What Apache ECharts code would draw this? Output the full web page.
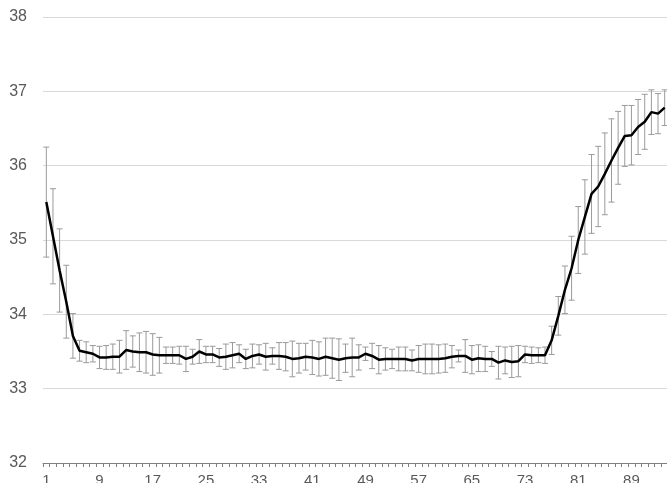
<!DOCTYPE html>
<html>
<head>
<meta charset="utf-8">
<script src="https://cdn.jsdelivr.net/npm/echarts@6/dist/echarts.min.js"></script>
<style>
  html, body { margin: 0; padding: 0; background: #ffffff; }
  #chart { width: 667px; height: 483px; }
</style>
</head>
<body>
<div id="chart"></div>
<script>
// Sample index along the x axis
const categories = [
  1, 2, 3, 4, 5, 6, 7, 8, 9, 10,
  11, 12, 13, 14, 15, 16, 17, 18, 19, 20,
  21, 22, 23, 24, 25, 26, 27, 28, 29, 30,
  31, 32, 33, 34, 35, 36, 37, 38, 39, 40,
  41, 42, 43, 44, 45, 46, 47, 48, 49, 50,
  51, 52, 53, 54, 55, 56, 57, 58, 59, 60,
  61, 62, 63, 64, 65, 66, 67, 68, 69, 70,
  71, 72, 73, 74, 75, 76, 77, 78, 79, 80,
  81, 82, 83, 84, 85, 86, 87, 88, 89, 90,
  91, 92, 93, 94
];

// Mean value per sample
const meanValues = [
  35.51, 35.05, 34.59, 34.17, 33.71, 33.51, 33.49, 33.47, 33.42, 33.42,
  33.43, 33.43, 33.52, 33.50, 33.49, 33.49, 33.46, 33.45, 33.45, 33.45,
  33.45, 33.40, 33.43, 33.50, 33.46, 33.46, 33.42, 33.43, 33.45, 33.47,
  33.40, 33.44, 33.46, 33.43, 33.44, 33.44, 33.43, 33.40, 33.41, 33.43,
  33.42, 33.40, 33.43, 33.41, 33.39, 33.41, 33.42, 33.42, 33.47, 33.44,
  33.39, 33.40, 33.40, 33.40, 33.40, 33.38, 33.40, 33.40, 33.40, 33.40,
  33.41, 33.43, 33.44, 33.44, 33.39, 33.41, 33.40, 33.40, 33.35, 33.38,
  33.36, 33.37, 33.46, 33.45, 33.45, 33.45, 33.65, 33.98, 34.33, 34.62,
  35.00, 35.31, 35.62, 35.72, 35.89, 36.07, 36.24, 36.40, 36.41, 36.52,
  36.59, 36.72, 36.70, 36.78
];

// Symmetric error (± half-range) per sample
const errValues = [
  0.74, 0.64, 0.56, 0.49, 0.30, 0.14, 0.14, 0.11, 0.15, 0.16,
  0.17, 0.22, 0.26, 0.21, 0.26, 0.28, 0.28, 0.24, 0.11, 0.11,
  0.12, 0.17, 0.10, 0.16, 0.11, 0.11, 0.12, 0.17, 0.17, 0.12,
  0.13, 0.16, 0.13, 0.18, 0.11, 0.18, 0.19, 0.24, 0.20, 0.18,
  0.23, 0.23, 0.25, 0.27, 0.28, 0.19, 0.26, 0.17, 0.09, 0.17,
  0.19, 0.15, 0.13, 0.16, 0.16, 0.14, 0.18, 0.20, 0.20, 0.19,
  0.19, 0.15, 0.08, 0.22, 0.19, 0.18, 0.17, 0.10, 0.22, 0.18,
  0.21, 0.21, 0.11, 0.11, 0.10, 0.11, 0.19, 0.26, 0.32, 0.43,
  0.45, 0.50, 0.53, 0.54, 0.55, 0.56, 0.49, 0.41, 0.40, 0.37,
  0.37, 0.30, 0.27, 0.24
];

// Y axis range
const yMin = 32;
const yMax = 38;
const yStep = 1;

const errorData = meanValues.map((m, i) => [i, +(m - errValues[i]).toFixed(3), +(m + errValues[i]).toFixed(3)]);

const chart = echarts.init(document.getElementById('chart'), null, { renderer: 'canvas' });

const fontFamily = '"Liberation Sans", Arial, Helvetica, sans-serif';

chart.setOption({
  animation: false,
  backgroundColor: '#ffffff',
  grid: {
    left: 43, top: 17, width: 625, height: 446,
    containLabel: false,
    outerBoundsMode: 'none'
  },
  xAxis: {
    type: 'category',
    data: categories,
    boundaryGap: true,
    axisLine: { show: true, lineStyle: { color: '#7f7f7f', width: 1 } },
    axisTick: { show: true, interval: 0, length: 4, lineStyle: { color: '#7f7f7f' } },
    axisLabel: { interval: 7, color: '#595959', fontSize: 15, margin: 10, fontFamily: fontFamily },
    splitLine: { show: false }
  },
  yAxis: {
    type: 'value',
    min: yMin,
    max: yMax,
    interval: yStep,
    axisLine: { show: false },
    axisTick: { show: false },
    axisLabel: { color: '#595959', fontSize: 16, margin: 16, fontFamily: fontFamily },
    splitLine: { show: true, lineStyle: { color: '#d9d9d9', width: 1 } }
  },
  series: [
    {
      type: 'custom',
      name: 'error',
      z: 2,
      clip: false,
      data: errorData,
      encode: { x: 0, y: [1, 2] },
      renderItem: function (params, api) {
        const idx = api.value(0);
        const lo = api.coord([idx, api.value(1)]);
        const hi = api.coord([idx, api.value(2)]);
        const cap = 3;
        const style = { stroke: '#9a9a9a', lineWidth: 1, fill: null };
        return {
          type: 'group',
          children: [
            { type: 'line', shape: { x1: hi[0], y1: hi[1], x2: lo[0], y2: lo[1] }, style: style },
            { type: 'line', shape: { x1: hi[0] - cap, y1: hi[1], x2: hi[0] + cap, y2: hi[1] }, style: style },
            { type: 'line', shape: { x1: lo[0] - cap, y1: lo[1], x2: lo[0] + cap, y2: lo[1] }, style: style }
          ]
        };
      }
    },
    {
      type: 'line',
      name: 'mean',
      z: 3,
      data: meanValues,
      showSymbol: false,
      symbol: 'none',
      lineStyle: { color: '#000000', width: 2.5 },
      itemStyle: { color: '#000000' }
    }
  ]
});
</script>
</body>
</html>
